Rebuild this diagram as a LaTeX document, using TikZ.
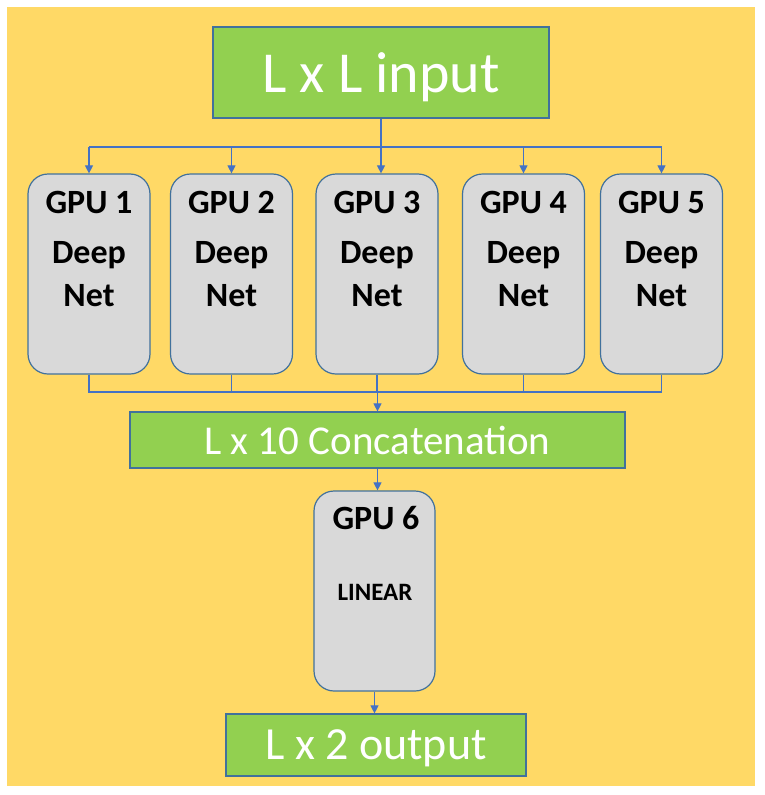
\documentclass[tikz,border=0pt]{standalone}
\usepackage{fontspec}
\setmainfont{Carlito}
\usetikzlibrary{arrows.meta}
\definecolor{bgyellow}{HTML}{FFD966}
\definecolor{boxgreen}{HTML}{92D050}
\definecolor{boxgray}{HTML}{D9D9D9}
\definecolor{lineblue}{HTML}{4472C4}
\definecolor{edgeblue}{HTML}{41719C}
\begin{document}
\begin{tikzpicture}[x=1pt,y=-1pt,
  greenbox/.style={draw=edgeblue, line width=1.2pt, fill=boxgreen, text=white, inner sep=0pt, text depth=0pt},
  gpubox/.style={draw=edgeblue, line width=1.2pt, fill=boxgray, rounded corners=20pt, minimum width=122pt, minimum height=200pt, inner sep=0pt},
  gputxt/.style={font=\fontsize{34}{40}\selectfont\bfseries, anchor=base, inner sep=0pt},
  conn/.style={draw=lineblue, line width=1.1pt},
  arr/.style={conn, -{Triangle[length=8pt,width=8pt]}}]
\fill[white] (0,0) rectangle (765,795);
\fill[bgyellow] (7,7) rectangle (755,786);
\useasboundingbox (0,0) rectangle (765,795);

\node[greenbox, minimum width=336pt, minimum height=91pt, font=\fontsize{58}{60}\selectfont] (in) at (381,72.5) {L x L input};

\foreach \i/\x in {1/89,2/231.5,3/377,4/523.5,5/661.5}{
  \node[gpubox] (gpu\i) at (\x,274) {};
  \node[gputxt] (g\i a) at (\x,213) {GPU \i};
  \node[gputxt] (g\i b) at (\x,263) {Deep};
  \node[gputxt] (g\i c) at (\x,306) {Net};
}

\coordinate (bus) at (381,147);
\draw[conn] (gpu1.north |- bus) -- (gpu5.north |- bus);
\draw[conn] (in.south) -- (in.south |- bus);
\foreach \i in {1,2,4,5} \draw[arr] (gpu\i.north |- bus) -- (gpu\i.north);
\draw[arr] (in.south) -- (in.south |- gpu3.north);

\node[greenbox, minimum width=495pt, minimum height=56pt, font=\fontsize{41}{44}\selectfont] (concat) at (377.5,440) {L x 10 Concatenation};

\coordinate (col) at (377,392);
\draw[conn] (gpu1.south) -- (gpu1.south |- col) -- (gpu5.south |- col) -- (gpu5.south);
\foreach \i in {2,3,4} \draw[conn] (gpu\i.south) -- (gpu\i.south |- col);
\draw[arr] (concat.north |- col) -- (concat.north);

\node[gpubox, minimum width=121pt] (gpu6) at (374.5,591) {};
\node[gputxt] (g6a) at (376,529) {GPU 6};
\node[gputxt, font=\fontsize{25}{30}\selectfont\bfseries] (g6b) at (375,600) {LINEAR};

\node[greenbox, minimum width=300pt, minimum height=62pt, font=\fontsize{46}{48}\selectfont] (out) at (376,745) {L x 2 output};

\draw[arr] (concat.south) -- (concat.south |- gpu6.north);
\draw[arr] (gpu6.south) -- (gpu6.south |- out.north);
\end{tikzpicture}
\end{document}
